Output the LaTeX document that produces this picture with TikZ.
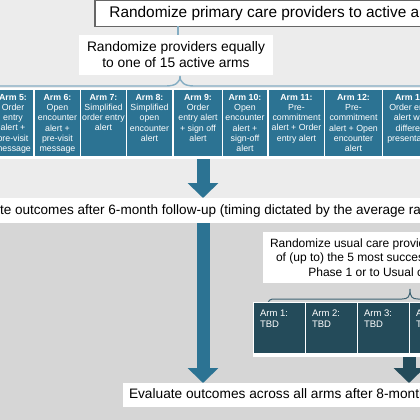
\documentclass[tikz,border=0pt]{standalone}
\usepackage{fontspec}
\setmainfont{Liberation Sans}
\usetikzlibrary{arrows.meta}
\definecolor{armblue}{HTML}{2C7393}
\definecolor{armdark}{HTML}{244B5A}
\definecolor{bgtop}{HTML}{ECECEC}
\definecolor{bgbot}{HTML}{D6D6D6}
\definecolor{bracecol}{HTML}{84ADC3}
\definecolor{bracedark}{HTML}{3E6373}
\definecolor{boxline}{HTML}{666666}
\begin{document}
\begin{tikzpicture}[x=1pt,y=-1pt,
  every node/.style={inner sep=0pt, outer sep=0pt},
  armbox/.style={fill=armblue, minimum width=#1, minimum height=66pt},
  armtext/.style={anchor=north, text=white, align=center, font=\fontsize{8.8}{10.3}\selectfont, yshift=-4pt},
  tbdbox/.style={fill=armdark, minimum width=51pt, minimum height=50pt},
  tbdtext/.style={anchor=north west, text=white, align=left, font=\fontsize{9.5}{11.3}\selectfont, xshift=6pt, yshift=-7pt},
  bigarrow/.style={draw=#1, line width=13pt, -{Triangle[width=30pt,length=15pt,fill=#1]}},
]
\useasboundingbox (0,0) rectangle (420,420);
\clip (0,0) rectangle (420,420);
\fill[bgtop] (0,0) rectangle (420,200);
\fill[bgbot] (0,222) rectangle (420,420);

% top box
\node[draw=boxline, line width=1.2pt, fill=white, anchor=west, inner xsep=14.4pt,
      minimum height=25.5pt, font=\fontsize{15.4}{18}\selectfont] (top) at (95,13.4)
  {Randomize primary care providers to active arms or usual care};

% sub box
\node[fill=white, minimum width=194pt, minimum height=40pt, align=center,
      font=\fontsize{13.8}{16}\selectfont] (sub) at (176,55)
  {Randomize providers equally\\to one of 15 active arms};
\draw[bracecol, line width=1.2pt] ([xshift=2pt]sub.north) -- ([xshift=2pt]sub.north |- top.south);

% brace 1
\draw[bracecol, line width=1.4pt] (-5,86) -- (166,86) .. controls (175,86) and (180,83) .. (180,76)
  .. controls (180,83) and (185,86) .. (194,86) -- (425,86);

% arms strip
\node[fill=white, minimum width=440pt, minimum height=71.5pt] (strip1) at (210,123.25) {};
\node[armbox=42pt] (a5) at (12,123) {};
\node[armbox=45pt] (a6) at (57.5,123) {};
\node[armbox=45pt] (a7) at (103.5,123) {};
\node[armbox=45pt] (a8) at (149.5,123) {};
\node[armbox=48pt] (a9) at (198,123) {};
\node[armbox=44pt] (a10) at (245,123) {};
\node[armbox=55pt] (a11) at (296.5,123) {};
\node[armbox=57pt] (a12) at (353.5,123) {};
\node[armbox=57pt] (a13) at (411.5,123) {};
\node[armtext] at ([xshift=1pt]a5.north) {\textbf{Arm 5:}\\Order\\entry\\alert +\\pre-visit\\message};
\node[armtext] at (a6.north) {\textbf{Arm 6:}\\Open\\encounter\\alert +\\pre-visit\\message};
\node[armtext] at (a7.north) {\textbf{Arm 7:}\\Simplified\\order entry\\alert};
\node[armtext] at (a8.north) {\textbf{Arm 8:}\\Simplified\\open\\encounter\\alert};
\node[armtext] at (a9.north) {\textbf{Arm 9:}\\Order\\entry alert\\+ sign off\\alert};
\node[armtext] at (a10.north) {\textbf{Arm 10:}\\Open\\encounter\\alert +\\sign-off\\alert};
\node[armtext] at (a11.north) {\textbf{Arm 11:}\\Pre-\\commitment\\alert + Order\\entry alert};
\node[armtext] at (a12.north) {\textbf{Arm 12:}\\Pre-\\commitment\\alert + Open\\encounter\\alert};
\node[armtext] at (a13.north) {\textbf{Arm 13:}\\Order entry\\alert with\\different\\presentation};

% band 1
\node[fill=white, minimum width=440pt, minimum height=25pt] (band1) at (210,210.5) {};
\node[anchor=west, font=\fontsize{13.55}{16}\selectfont] (band1text) at (-41.4,210.5)
  {Evaluate outcomes after 6-month follow-up (timing dictated by the average rate of visits)};

% band 2
\node[fill=white, anchor=west, inner xsep=6pt, minimum height=24pt,
      font=\fontsize{13.7}{16}\selectfont] (band2) at (123,395)
  {Evaluate outcomes across all arms after 8-month follow-up};

% right box
\node[fill=white, anchor=west, inner xsep=7pt, minimum height=51pt, align=center,
      font=\fontsize{12}{14.5}\selectfont] (rbox) at (263,257.5)
  {Randomize usual care providers to one\\of (up to) the 5 most successful arms\\Phase 1 or to Usual care};

% brace 2
\draw[bracedark, line width=1pt] (268,305) .. controls (268,300) and (270,299) .. (275,299)
  -- (402,299) .. controls (408,299) and (410,297) .. (410,289)
  .. controls (410,297) and (412,299) .. (418,299) -- (545,299)
  .. controls (550,299) and (552,300) .. (552,305);

% phase 2 strip
\node[fill=white, anchor=north west, minimum width=220pt, minimum height=55pt] (strip2) at (253,302) {};
\node[tbdbox] (b1) at (279.5,328) {};
\node[tbdbox] (b2) at (331.5,328) {};
\node[tbdbox] (b3) at (383.5,328) {};
\node[tbdbox] (b4) at (435.5,328) {};
\node[tbdtext] at (b1.north west) {Arm 1:\\TBD};
\node[tbdtext] at (b2.north west) {Arm 2:\\TBD};
\node[tbdtext] at (b3.north west) {Arm 3:\\TBD};
\node[tbdtext] at (b4.north west) {Arm 4:\\TBD};

% arrows
\coordinate (c1) at (203,0);
\coordinate (c2) at (409,0);
\draw[bigarrow=armblue] (strip1.south -| c1) -- (band1.north -| c1);
\draw[bigarrow=armblue] (band1.south -| c1) -- (band2.north -| c1);
\draw[bigarrow=armdark] (strip2.south -| c2) -- (band2.north -| c2);
\end{tikzpicture}
\end{document}
